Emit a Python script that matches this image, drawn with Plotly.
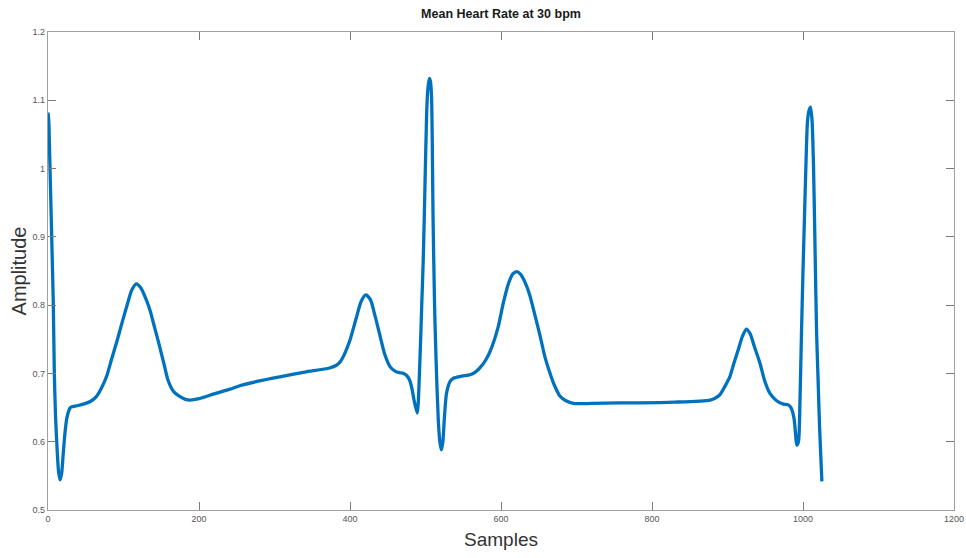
import plotly.graph_objects as go

# Values
samples = [0, 1, 2.6, 4.9, 7, 8.4, 10, 12, 14, 16, 18, 20, 22.5, 25, 29, 31, 40, 56, 64, 71, 78, 84, 91, 98, 105, 111, 117,
           123, 129, 135, 141, 148, 154, 159, 166, 175, 182, 188, 200, 220, 241, 254, 280, 307, 340, 373, 382, 387,
           393, 400, 408, 415, 421, 427, 433, 440, 446, 453, 460, 466, 471, 475, 479, 482, 485, 489, 492, 495, 497,
           499, 501.5, 503, 505, 506.5, 508, 510, 512, 514, 517, 519, 521, 523, 525, 528, 533, 537, 548, 559, 566,
           572, 580, 588, 596, 603, 610, 616, 621, 626, 632, 638, 645, 652, 658, 665, 671, 678, 686, 696, 720, 757,
           784, 830, 877, 884, 890, 896, 903, 908, 914, 920, 925, 930, 936, 943, 949, 956, 965, 974, 980, 984, 988,
           992, 994, 996, 998, 1000, 1002, 1004, 1006, 1008, 1010, 1012, 1014, 1016, 1018, 1020, 1022, 1025]
amplitude = [1.082, 1.07, 1.003, 0.90, 0.803, 0.70, 0.637, 0.59, 0.556, 0.544, 0.553, 0.58, 0.613, 0.635, 0.649, 0.651,
             0.653, 0.659, 0.666, 0.679, 0.697, 0.720, 0.746, 0.774, 0.801, 0.822, 0.831, 0.825, 0.811, 0.793, 0.768,
             0.739, 0.712, 0.690, 0.674, 0.666, 0.662, 0.661, 0.663, 0.670, 0.677, 0.682, 0.689, 0.695, 0.702, 0.708,
             0.712, 0.717, 0.729, 0.749, 0.780, 0.806, 0.815, 0.808, 0.785, 0.754, 0.728, 0.710, 0.703, 0.701, 0.700,
             0.697, 0.690, 0.678, 0.660, 0.642, 0.70, 0.80, 0.866, 0.96, 1.08, 1.115, 1.132, 1.128, 1.105, 0.93, 0.80,
             0.72, 0.63, 0.600, 0.588, 0.600, 0.635, 0.672, 0.689, 0.693, 0.696, 0.698, 0.702, 0.708, 0.720, 0.739,
             0.767, 0.803, 0.832, 0.846, 0.849, 0.845, 0.833, 0.815, 0.785, 0.754, 0.725, 0.700, 0.682, 0.667, 0.660,
             0.656, 0.656, 0.657, 0.657, 0.658, 0.661, 0.664, 0.669, 0.680, 0.695, 0.713, 0.734, 0.755, 0.765, 0.758,
             0.738, 0.715, 0.690, 0.671, 0.660, 0.655, 0.654, 0.650, 0.635, 0.595, 0.60, 0.66, 0.76, 0.85, 0.93, 1.01,
             1.07, 1.085, 1.090, 1.07, 1.0, 0.88, 0.76, 0.69, 0.62, 0.542]

title_text = "Mean Heart Rate at 30 bpm"
x_label = "Samples"
y_label = "Amplitude"
x_ticks = [0, 200, 400, 600, 800, 1000, 1200]
y_ticks = [0.5, 0.6, 0.7, 0.8, 0.9, 1, 1.1, 1.2]

FONT = "Liberation Sans, Arial, sans-serif"

fig = go.Figure()
fig.add_trace(go.Scatter(
    x=samples, y=amplitude, mode="lines",
    line=dict(color="#0072BD", width=3.3, shape="spline", smoothing=0.7),
    showlegend=False, hoverinfo="skip",
))

axis_common = dict(
    showgrid=False, zeroline=False, showline=True, linecolor="#a0a0a0", linewidth=1.2,
    mirror="ticks", ticks="inside", ticklen=8, tickcolor="#7a7a7a", tickwidth=1,
    tickfont=dict(family=FONT, size=9, color="#555555"), automargin=False,
    ticklabeloverflow="allow",
)

fig.update_layout(
    width=966, height=558,
    margin=dict(l=48, r=12, t=32, b=48),
    paper_bgcolor="white", plot_bgcolor="white",
    title=dict(text="<b>" + title_text + "</b>", x=0.5, xref="paper", xanchor="center",
               y=0.975, yref="container", yanchor="middle", automargin=False,
               font=dict(family=FONT, size=12.5, color="#1a1a1a")),
    xaxis=dict(range=[0, 1200], tickvals=x_ticks, ticktext=[str(t) for t in x_ticks],
               title=dict(text=x_label, standoff=9,
                          font=dict(family=FONT, size=19, color="#333333")),
               **axis_common),
    yaxis=dict(range=[0.5, 1.2], tickvals=y_ticks, ticktext=[f"{t:g}" for t in y_ticks],
               title=dict(text=y_label, standoff=0,
                          font=dict(family=FONT, size=20, color="#333333")),
               **axis_common),
)

# Remove the default page margin so the figure fills the 966x558 window exactly
fig.write_html("out.html", config={"displayModeBar": False},
               post_script="document.body.style.margin='0';document.body.style.overflow='hidden';")
